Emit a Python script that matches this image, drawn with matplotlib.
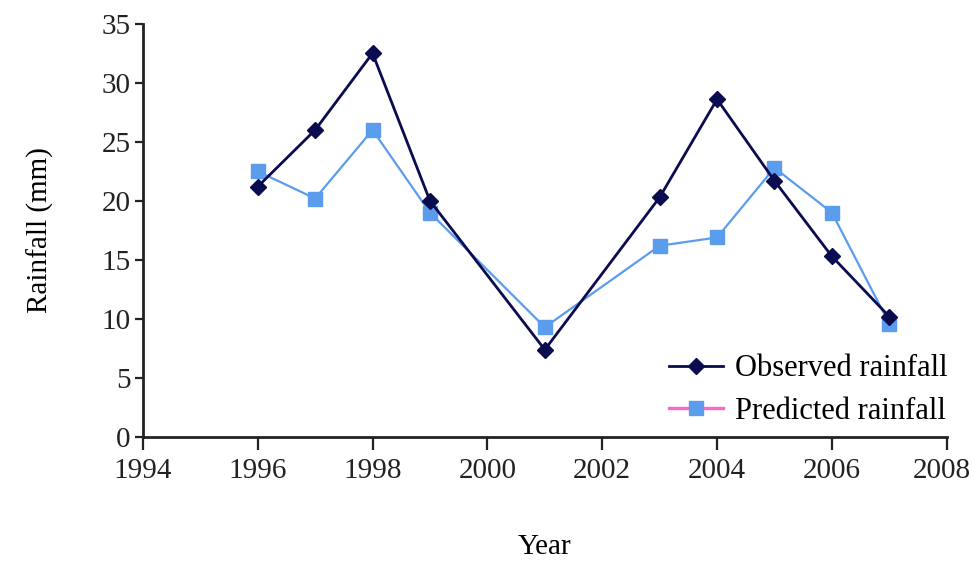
import matplotlib.pyplot as plt
import matplotlib.transforms as mtransforms
from matplotlib.lines import Line2D

# data
years = [1996, 1997, 1998, 1999, 2001, 2003, 2004, 2005, 2006, 2007]
observed = [21.2, 26.0, 32.5, 20.0, 7.4, 20.3, 28.6, 21.7, 15.3, 10.2]
predicted = [22.5, 20.2, 26.0, 19.0, 9.3, 16.2, 16.9, 22.8, 19.0, 9.6]

x_ticks = list(range(1994, 2009, 2))
y_ticks = list(range(0, 36, 5))

navy = '#0b0b4f'
light_blue = '#5c9ced'
pink = '#ff66cc'

plt.rcParams['font.family'] = ['Liberation Serif', 'DejaVu Serif']

fig = plt.figure(figsize=(9.72, 5.64), dpi=100)
ax = fig.add_axes([0.147, 0.225, 0.827, 0.733])

ax.plot(years, predicted, color=light_blue, linewidth=1.6, marker='s',
        markersize=9.5, markerfacecolor=light_blue, markeredgecolor=light_blue, zorder=3)
ax.plot(years, observed, color=navy, linewidth=2, marker='D',
        markersize=8, markerfacecolor=navy, markeredgecolor=navy, zorder=4)

ax.set_xlim(1994, 2008)
ax.set_ylim(0, 35)
ax.set_xticks(x_ticks)
ax.set_yticks(y_ticks)
ax.tick_params(labelsize=21, direction='out', width=1.6, colors='#222222')
ax.tick_params(axis='x', length=9, pad=6)
ax.tick_params(axis='y', length=6, pad=3)

# nudge the last x label a little so it stays inside the picture
last = ax.get_xticklabels()[-1]
last.set_transform(last.get_transform() +
                   mtransforms.ScaledTranslation(-5 / 100, 0, fig.dpi_scale_trans))

for side in ['top', 'right']:
    ax.spines[side].set_visible(False)
for side in ['left', 'bottom']:
    ax.spines[side].set_linewidth(2)
    ax.spines[side].set_color('#222222')

ax.set_xlabel("Year", fontsize=21, labelpad=36)
ax.set_ylabel("Rainfall (mm)", fontsize=21, labelpad=34)

# legend: the predicted entry has a pink line with a blue square
handles = [
    Line2D([], [], color=navy, linewidth=2, marker='D', markersize=8),
    Line2D([], [], color=pink, linewidth=2.4, marker='s', markersize=9.5,
           markerfacecolor=light_blue, markeredgecolor=light_blue),
]
ax.legend(handles, ["Observed rainfall", "Predicted rainfall"],
          loc='lower right', bbox_to_anchor=(1.02, -0.01), frameon=False,
          fontsize=22, handlelength=1.75, handletextpad=0.4, labelspacing=0.45,
          borderpad=0)

fig.savefig("out.png", dpi=100)
